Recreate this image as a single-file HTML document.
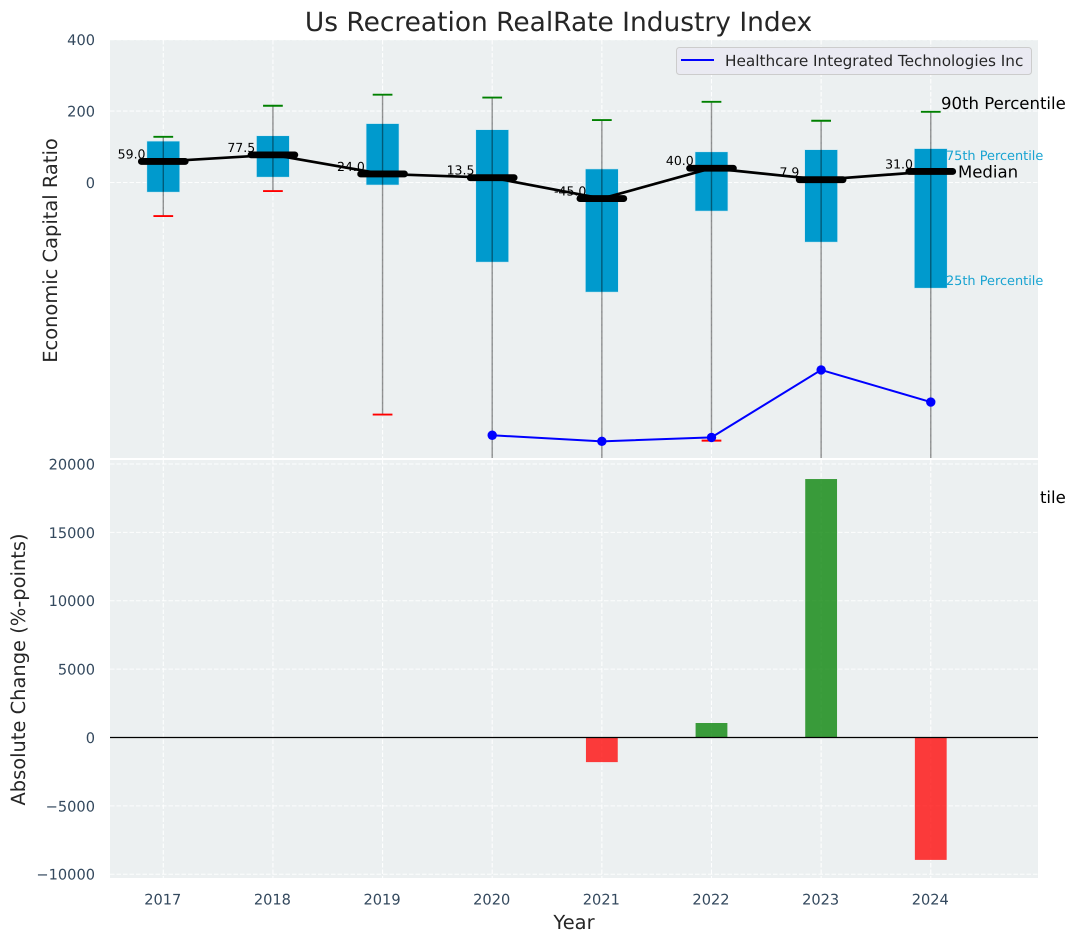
<!DOCTYPE html>
<html lang="en">
<head>
<meta charset="utf-8">
<title>Us Recreation RealRate Industry Index</title>
<style>
html,body{margin:0;padding:0;background:#fff;width:1076px;height:942px;overflow:hidden}
svg{display:block;font-family:"DejaVu Sans","Liberation Sans",sans-serif;text-rendering:geometricPrecision}
</style>
</head>
<body>
<svg id="chart" xmlns="http://www.w3.org/2000/svg" width="1076" height="942" viewBox="0 0 1076 942">
<defs>
<clipPath id="top-clip"><rect x="110" y="40" width="928" height="418"/></clipPath>
<clipPath id="bottom-clip"><rect x="110" y="460" width="928" height="418"/></clipPath>
<clipPath id="overflow-clip"><rect x="1040.5" y="460" width="36" height="100"/></clipPath>
</defs>
<text x="558.5" y="31" text-anchor="middle" font-size="26.45" fill="#262626">Us Recreation RealRate Industry Index</text>
<rect x="110" y="40" width="928" height="418" fill="#ecf0f1"/>
<g id="top-grid"></g>
<g id="top-marks" clip-path="url(#top-clip)"></g>
<g id="top-annotations"></g>
<rect x="110" y="460" width="928" height="418" fill="#ecf0f1"/>
<g id="bottom-grid"></g>
<g id="bottom-marks" clip-path="url(#bottom-clip)"></g>
<g id="axis-labels"></g>
<text transform="translate(57,250.5) rotate(-90)" text-anchor="middle" font-size="19.44" fill="#262626">Economic Capital Ratio</text>
<text transform="translate(25,669.5) rotate(-90)" text-anchor="middle" font-size="19.44" fill="#262626">Absolute Change (%-points)</text>
<text x="574" y="929" text-anchor="middle" font-size="19.44" fill="#262626">Year</text>
<g>
<rect x="676.5" y="47.5" width="355" height="27" rx="3" fill="#eaeaf2" stroke="#cccccc" stroke-width="1"/>
<line x1="681" y1="60" x2="714" y2="60" stroke="#0000ff" stroke-width="2"/>
<text x="725" y="66" font-size="15.28" fill="#262626">Healthcare Integrated Technologies Inc</text>
</g>
</svg>
<script>
const years = [2017, 2018, 2019, 2020, 2021, 2022, 2023, 2024];
const medians = [59.0, 77.5, 24.0, 13.5, -45.0, 40.0, 7.9, 31.0];
const q75 = [116, 131, 165, 148, 38, 86, 92, 95];
const q25 = [-27, 15, -7, -223, -307, -80, -167, -296];
const p90 = [128, 215, 246, 238, 175, 226, 173, 198];
const p10 = [-94, -24, -650, -1000, -1000, -723, -1000, -1000];
const companySeries = [null, null, null, -708, -725, -714, -525, -615];
const absoluteChange = [null, null, null, null, -1800, 1060, 18900, -8950];
const topTicks = [400, 200, 0];
const bottomTicks = [20000, 15000, 10000, 5000, 0, -5000, -10000];

const svg = document.getElementById('chart');
const NS = 'http://www.w3.org/2000/svg';
const xDomain = [2016.514, 2024.978];
const xRange = [110, 1038];
const topDomain = [399.2, -771.7];
const topRange = [40, 458];
const bottomDomain = [20292, -10274];
const bottomRange = [460, 878];
function scale(v, d, r) { return r[0] + (v - d[0]) / (d[1] - d[0]) * (r[1] - r[0]); }
function xAxis(v) { return scale(v, xDomain, xRange); }
function topAxis(v) { return scale(v, topDomain, topRange); }
function bottomAxis(v) { return scale(v, bottomDomain, bottomRange); }
function xUnits(n) { return n * (xRange[1] - xRange[0]) / (xDomain[1] - xDomain[0]); }
function make(parent, tag, props, text) {
  const el = document.createElementNS(NS, tag);
  for (const k in props) el.setAttribute(k, props[k]);
  if (text !== undefined) el.textContent = text;
  parent.appendChild(el);
  return el;
}
const topGrid = document.getElementById('top-grid');
const topMarks = document.getElementById('top-marks');
const bottomGrid = document.getElementById('bottom-grid');
const bottomMarks = document.getElementById('bottom-marks');
const labels = document.getElementById('axis-labels');
const tickColor = '#34495e';
const tickSize = 14.58;
const dash = { stroke: '#ffffff', 'stroke-width': 1.1, 'stroke-dasharray': '4.5 2', 'stroke-opacity': 0.9 };

years.forEach(function (yr) {
  const px = xAxis(yr);
  const a = make(topGrid, 'line', Object.assign({ x1: px, x2: px, y1: 40, y2: 458 }, dash));
  
  
  const b = make(bottomGrid, 'line', Object.assign({ x1: px, x2: px, y1: 460, y2: 878 }, dash));
  
  
  const t = make(labels, 'text', { x: px - 0.5, y: 904.6, 'text-anchor': 'middle', 'font-size': tickSize, fill: tickColor }, String(yr));
  
  
});
topTicks.forEach(function (v) {
  const py = topAxis(v);
  const g = make(topGrid, 'line', Object.assign({ x1: 110, x2: 1038, y1: py, y2: py }, dash));
  
  
  const t = make(labels, 'text', { x: 95, y: py + 5.4, 'text-anchor': 'end', 'font-size': tickSize, fill: tickColor }, String(v));
  
  
});
bottomTicks.forEach(function (v) {
  const py = bottomAxis(v);
  const g = make(bottomGrid, 'line', Object.assign({ x1: 110, x2: 1038, y1: py, y2: py }, dash));
  
  
  const t = make(labels, 'text', { x: 95, y: py + 5.4, 'text-anchor': 'end', 'font-size': tickSize, fill: tickColor }, String(v).replace('-', '\u2212'));
  
  
});

const boxHalf = xUnits(0.15);
const capHalf = xUnits(0.09);
const medianHalf = xUnits(0.2);
const labelOffset = xUnits(0.289);

years.forEach(function (yr, i) {
  const px = xAxis(yr);
  const box = make(topMarks, 'rect', {
    x: px - boxHalf, y: topAxis(q75[i]), width: boxHalf * 2,
    height: topAxis(q25[i]) - topAxis(q75[i]),
    fill: '#009acd', stroke: '#cfe9f2', 'stroke-width': 0.6
  });
  
  
  const whisker = make(topMarks, 'line', {
    x1: px, x2: px, y1: topAxis(p90[i]), y2: topAxis(p10[i]),
    stroke: '#000000', 'stroke-opacity': 0.42, 'stroke-width': 1.4
  });
  
  
  const capHigh = make(topMarks, 'line', {
    x1: px - capHalf, x2: px + capHalf, y1: topAxis(p90[i]), y2: topAxis(p90[i]),
    stroke: '#008000', 'stroke-width': 1.9
  });
  
  
  const capLow = make(topMarks, 'line', {
    x1: px - capHalf, x2: px + capHalf, y1: topAxis(p10[i]), y2: topAxis(p10[i]),
    stroke: '#ff0000', 'stroke-width': 1.9
  });
  
  
  const lab = make(topMarks, 'text', {
    x: px - labelOffset, y: topAxis(medians[i]) - 3, 'text-anchor': 'middle',
    'font-size': 12.5, fill: '#000000'
  }, medians[i].toFixed(1));
  
  
});

const medianPath = make(topMarks, 'polyline', {
  points: years.map(function (yr, i) { return xAxis(yr) + ',' + topAxis(medians[i]); }).join(' '),
  fill: 'none', stroke: '#000000', 'stroke-width': 2.7, 'stroke-linejoin': 'round'
});



years.forEach(function (yr, i) {
  const px = xAxis(yr);
  const bar = make(topMarks, 'line', {
    x1: px - medianHalf, x2: px + medianHalf, y1: topAxis(medians[i]), y2: topAxis(medians[i]),
    stroke: '#000000', 'stroke-width': 6.8, 'stroke-linecap': 'round'
  });
  
  
});

const companyPoints = years.map(function (yr, i) {
  return companySeries[i] === null ? null : [xAxis(yr), topAxis(companySeries[i])];
}).filter(Boolean);
const companyLine = make(topMarks, 'polyline', {
  points: companyPoints.map(function (p) { return p.join(','); }).join(' '),
  fill: 'none', stroke: '#0000ff', 'stroke-width': 2
});


companyPoints.forEach(function (p) {
  const dot = make(topMarks, 'circle', { cx: p[0], cy: p[1], r: 4.7, fill: '#0000ff' });
  
  
});

const annotations = document.getElementById('top-annotations');
const last = years.length - 1;
const lastX = xAxis(years[last]);
const a90 = make(annotations, 'text', { x: lastX + 10.2, y: topAxis(p90[last]) - 3, 'font-size': 16.55, fill: '#000000' }, '90th Percentile');


const a75 = make(annotations, 'text', { x: lastX + 15.2, y: topAxis(q75[last]) + 11.5, 'font-size': 12.9, fill: '#009acd', 'fill-opacity': 0.9 }, '75th Percentile');


const aMed = make(annotations, 'text', { x: lastX + 27.2, y: topAxis(medians[last]) + 6, 'font-size': 16.55, fill: '#000000' }, 'Median');


const a25 = make(annotations, 'text', { x: lastX + 15.2, y: topAxis(q25[last]) - 3, 'font-size': 12.9, fill: '#009acd', 'fill-opacity': 0.9 }, '25th Percentile');


const a10 = make(annotations, 'text', { x: lastX + 10.2, y: 503, 'font-size': 16.55, fill: '#000000', 'clip-path': 'url(#overflow-clip)' }, '10th Percentile');



const barHalf = xUnits(0.145);
years.forEach(function (yr, i) {
  const v = absoluteChange[i];
  if (v === null) return;
  const y0 = bottomAxis(0);
  const y1 = bottomAxis(v);
  const bar = make(bottomMarks, 'rect', {
    x: xAxis(yr) - barHalf, y: Math.min(y0, y1), width: barHalf * 2, height: Math.abs(y1 - y0),
    fill: v >= 0 ? '#008000' : '#ff0000', 'fill-opacity': 0.76
  });
  
  
});
const zero = make(bottomMarks, 'line', { x1: 110, x2: 1038, y1: bottomAxis(0), y2: bottomAxis(0), stroke: '#000000', 'stroke-width': 1.3 });


</script>
</body>
</html>
